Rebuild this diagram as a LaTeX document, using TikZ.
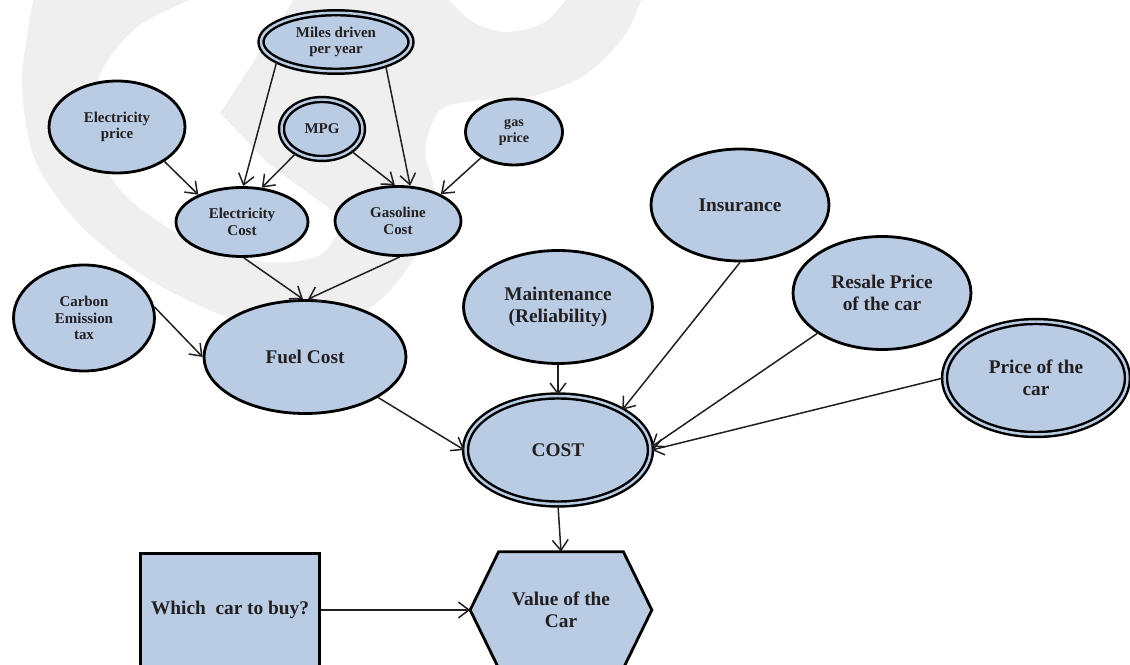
\documentclass[tikz,border=0pt]{standalone}
\usepackage{fontspec}
\setmainfont{Liberation Serif}
\usetikzlibrary{shapes.geometric,arrows.meta,calc}
\definecolor{nodeblue}{RGB}{185,204,228}
\definecolor{txt}{RGB}{35,31,32}
\definecolor{wm}{RGB}{239,239,239}
\tikzset{
  ell/.style={ellipse, draw=black, line width=1.6pt, fill=nodeblue, inner sep=0pt,
    text=txt, align=center},
  dbl/.style={double=nodeblue, double distance=1.4pt, line width=1.4pt},
  smalltext/.style={font=\fontsize{8.5}{9.4}\selectfont\bfseries},
  bigtext/.style={font=\fontsize{11}{12.5}\selectfont\bfseries},
  boxnode/.style={rectangle, draw=black, line width=1.6pt, fill=nodeblue, inner sep=0pt,
    text=txt, align=center},
  conn/.style={line width=0.85pt, draw=txt, -{Straight Barb[length=6pt,width=9pt]}},
}
\begin{document}
\begin{tikzpicture}[x=0.02cm,y=-0.02cm]
\useasboundingbox (0,0) rectangle (1130,665);
% watermark
\fill[wm] plot[smooth] coordinates {(35,-10) (22,80) (35,160) (80,225) (150,280) (230,318) (310,335) (380,300) (425,240) (434,190) (425,150) (440,110) (480,100) (530,97) (585,75) (625,35) (645,-10)} -- cycle;
\fill[white] plot[smooth] coordinates {(214,-10) (140,25) (100,75) (95,140) (125,195) (190,240) (265,262) (320,255) (345,220)} -- (267,163) -- (220,113) -- (300,-10) -- cycle;
\fill[white] plot[smooth] coordinates {(440,-10) (470,20) (505,32) (545,22) (573,-10)} -- cycle;

% nodes
\node[ell,dbl,smalltext,minimum width=3.0cm,minimum height=1.17cm] (miles) at (336,42) {Miles driven\\per year};
\node[ell,dbl,smalltext,minimum width=1.62cm,minimum height=1.18cm] (mpg) at (322,129) {MPG};
\node[ell,smalltext,minimum width=2.72cm,minimum height=1.84cm] (eprice) at (117,127) {Electricity\\price};
\node[ell,font=\fontsize{8}{9}\selectfont\bfseries,minimum width=1.94cm,minimum height=1.32cm] (gprice) at (514,132) {gas\\price};
\node[ell,smalltext,minimum width=2.64cm,minimum height=1.38cm] (ecost) at (242,222) {Electricity\\Cost};
\node[ell,smalltext,minimum width=2.52cm,minimum height=1.38cm] (gcost) at (398,221) {Gasoline\\Cost};
\node[ell,smalltext,minimum width=2.82cm,minimum height=2.12cm] (carbon) at (84,318) {Carbon\\Emission\\tax};
\node[ell,bigtext,minimum width=4.04cm,minimum height=2.26cm] (fuel) at (305,357) {Fuel Cost};
\node[ell,bigtext,minimum width=3.78cm,minimum height=2.26cm] (maint) at (558,307) {Maintenance\\(Reliability)};
\node[ell,bigtext,minimum width=3.56cm,minimum height=2.24cm] (ins) at (740,205) {Insurance};
\node[ell,bigtext,minimum width=3.56cm,minimum height=2.26cm] (resale) at (882,293) {Resale Price\\of the car};
\node[ell,dbl,bigtext,minimum width=3.66cm,minimum height=2.26cm] (price) at (1036,378) {Price of the\\car};
\node[ell,dbl,bigtext,minimum width=3.70cm,minimum height=2.16cm] (cost) at (558,450) {COST};
\node[boxnode,bigtext,minimum width=3.58cm,minimum height=2.26cm] (which) at (230,610) {Which~ car to buy?};
\node[rectangle,inner sep=0pt,minimum width=3.62cm,minimum height=2.32cm] (value) at (561,610) {};
\draw[line width=1.6pt, fill=nodeblue, line join=miter]
  (value.west) -- ($(value.north west)+(28.5,0)$) -- ($(value.north east)+(-28.5,0)$)
  -- (value.east) -- ($(value.south east)+(-28.5,0)$) -- ($(value.south west)+(28.5,0)$) -- cycle;
\node[bigtext,text=txt,align=center] (valuetext) at (value.center) {Value of the\\Car};

% connectors
\draw[conn] (miles.198) -- (ecost.88);
\draw[conn] (miles.335) -- (gcost.71);
\draw[conn] (mpg.223) -- (ecost.60);
\draw[conn] (mpg.323) -- (gcost.95);
\draw[conn] (eprice.324) -- (ecost.148);
\draw[conn] (gprice.218) -- (gcost.32);
\draw[conn] (ecost.273) -- (fuel.92);
\draw[conn] (gcost.273) -- (fuel.87);
\draw[conn] (carbon.9) -- (fuel.180);
\draw[conn] (fuel.331) -- (cost.west);
\draw[conn] (maint.south) -- (cost.north);
\draw[conn] (ins.south) -- (cost.32);
\draw[conn] (resale.212) -- (cost.2);
\draw[conn] (price.west) -- (cost.east);
\draw[conn] (cost.south) -- (value.north);
\draw[conn] (which.east) -- (value.west);
\end{tikzpicture}
\end{document}
